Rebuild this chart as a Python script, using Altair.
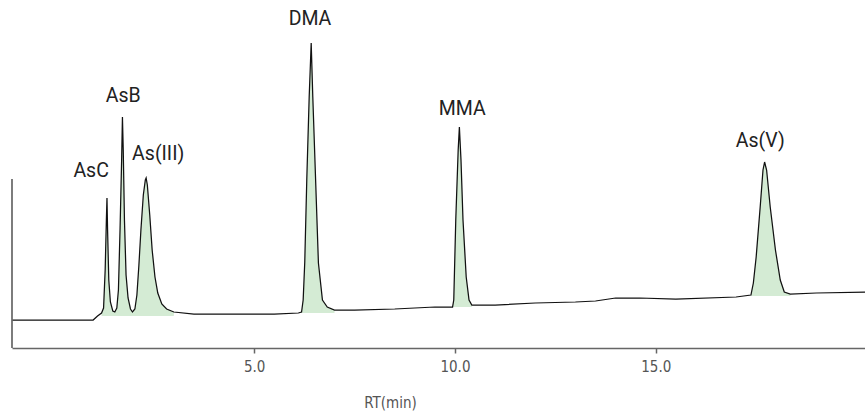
import altair as alt
import pandas as pd

# Chromatogram trace: retention time (min) and signal (arbitrary units)
rt_min = [-1.03, 0.99, 1.10, 1.20,
          1.25, 1.29, 1.32, 1.335, 1.35, 1.38, 1.42, 1.48, 1.53,
          1.58, 1.62, 1.66, 1.70, 1.72, 1.74, 1.77, 1.81, 1.86, 1.92, 1.97,
          2.03, 2.08, 2.13, 2.18, 2.24, 2.29, 2.31, 2.34, 2.40, 2.46, 2.53, 2.60, 2.70, 2.82,
          3.00, 3.50, 4.50, 5.50, 6.10,
          6.18, 6.22, 6.26, 6.31, 6.37, 6.42, 6.46, 6.53, 6.60, 6.70, 6.82,
          7.00, 7.50, 8.50, 9.50, 9.94,
          9.97, 10.02, 10.08, 10.11, 10.15, 10.20, 10.28, 10.35, 10.42,
          11.00, 12.00, 13.00, 13.50, 14.00, 14.60, 15.50, 17.00, 17.37,
          17.43, 17.50, 17.60, 17.67, 17.71, 17.76, 17.85, 17.98, 18.10, 18.20, 18.35,
          19.00, 20.21]
signal = [28, 28, 32, 35,
          40, 78, 128, 150, 118, 68, 46, 37, 36,
          40, 58, 118, 188, 231, 198, 128, 73, 50, 39, 36,
          39, 53, 83, 118, 153, 168, 170, 163, 133, 98, 71, 55, 44, 39,
          36, 34, 34, 34, 35,
          36, 48, 86, 168, 251, 305, 251, 168, 85, 48, 41,
          38, 38, 39, 41, 41,
          48, 128, 198, 221, 188, 128, 71, 48, 43,
          43, 45, 46, 47, 50, 50, 49, 51, 53,
          65, 91, 141, 178, 186, 178, 141, 98, 68, 56, 54,
          55, 56]

# Peak labels
peak_names = ["AsC", "AsB", "As(III)", "DMA", "MMA", "As(V)"]
peak_label_rt = [0.94, 1.74, 2.61, 6.39, 10.18, 17.60]
peak_label_y = [171, 246, 188, 323, 233, 201]

# Shaded (integrated) windows
fill_start = [1.20, 6.18, 9.94, 17.37]
fill_end = [3.00, 7.00, 10.42, 18.35]
fill_base = [32, 35, 41, 52]

x_ticks = [5.0, 10.0, 15.0]
x_domain = [-1.03, 20.21]
y_domain = [0, 348]
left_axis_span = [0, 169]

trace = pd.DataFrame({"t": rt_min, "s": signal})

rows = []
for g, (a, b, base) in enumerate(zip(fill_start, fill_end, fill_base)):
    for t, s in zip(rt_min, signal):
        if a <= t <= b:
            rows.append({"t": t, "s": s, "base": base, "g": g})
fill = pd.DataFrame(rows)

labels = pd.DataFrame({"name": peak_names, "t": peak_label_rt, "y": peak_label_y})
axis_rule = pd.DataFrame({"t": [x_domain[0]], "y": [left_axis_span[1]], "y2": [left_axis_span[0]]})

xs = alt.Scale(domain=x_domain, nice=False, zero=False)
ys = alt.Scale(domain=y_domain, nice=False, zero=False)

narrow = "Liberation Sans Narrow, DejaVu Sans Condensed, Roboto Condensed, Roboto"
x_axis = alt.Axis(
    values=x_ticks, format=".1f", title="RT(min)", grid=False,
    domainColor="#666666", domainWidth=1.7, tickColor="#666666", tickWidth=1.5, tickSize=5,
    labelFont=narrow, labelFontSize=15, labelColor="#555555", labelPadding=6,
    titleFont=narrow, titleFontSize=15, titleFontWeight="normal", titleColor="#555555",
    titleX=378, titleY=59, titleAlign="center", titleBaseline="alphabetic",
)
X = alt.X("t:Q", scale=xs, axis=x_axis)

area = alt.Chart(fill).mark_area(color="#d4ebd4", opacity=1, interpolate="linear").encode(
    x=X,
    y=alt.Y("s:Q", scale=ys, axis=None),
    y2="base:Q",
    detail="g:N",
)

line = alt.Chart(trace).mark_line(color="#111111", strokeWidth=1.25).encode(
    x=X,
    y=alt.Y("s:Q", scale=ys, axis=None),
)

text = alt.Chart(labels).mark_text(font="Roboto", fontSize=19.5, color="#222222",
                                   align="center", baseline="alphabetic").encode(
    x=X,
    y=alt.Y("y:Q", scale=ys, axis=None),
    text="name:N",
)

rule = alt.Chart(axis_rule).mark_rule(color="#666666", strokeWidth=1.7).encode(
    x=X,
    y=alt.Y("y:Q", scale=ys, axis=None),
    y2="y2:Q",
)

chart = alt.layer(area, line, text, rule).properties(
    width=853, height=348,
    padding={"left": 12, "top": 0, "right": 0, "bottom": 63},
    autosize=alt.AutoSizeParams(type="none"),
).configure_view(stroke=None)

chart.save("out.html", embed_options={"renderer": "svg", "actions": False})
